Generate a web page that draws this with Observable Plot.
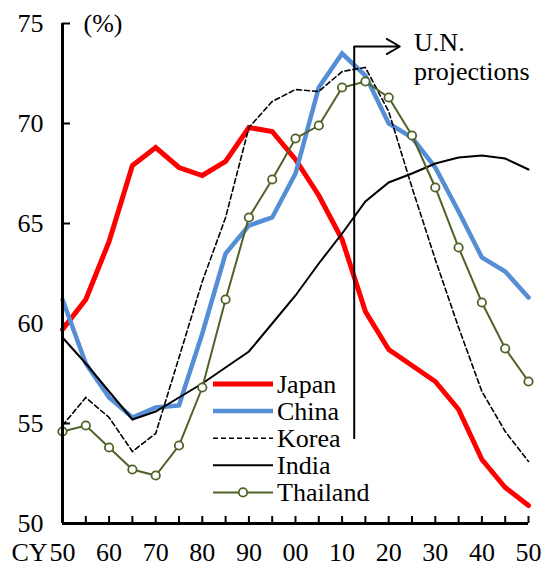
<!DOCTYPE html>
<html>
<head>
<meta charset="utf-8">
<script src="https://cdn.jsdelivr.net/npm/d3@7"></script>
<script src="https://cdn.jsdelivr.net/npm/@observablehq/plot@0.6"></script>
<style>
  html, body { margin: 0; padding: 0; background: #fff; }
  #wrap { position: relative; width: 544px; height: 566px; }
  #legend { position: absolute; left: 0; top: 0; pointer-events: none; }
</style>
</head>
<body>
<div id="wrap"></div>
<script>
// ---- data ----
const years = [1950,1955,1960,1965,1970,1975,1980,1985,1990,1995,2000,2005,2010,2015,2020,2025,2030,2035,2040,2045,2050];
const japan    = [59.7,61.2,64.1,67.9,68.8,67.8,67.4,68.1,69.8,69.6,68.2,66.4,64.2,60.6,58.7,57.9,57.1,55.7,53.2,51.8,50.9];
const china    = [61.2,58.0,56.3,55.3,55.8,55.9,59.5,63.5,64.9,65.3,67.5,71.8,73.5,72.4,70.0,69.3,67.8,65.6,63.3,62.6,61.3];
const korea    = [54.9,56.3,55.3,53.6,54.5,58.3,62.1,65.3,69.8,71.1,71.7,71.6,72.6,72.8,70.6,66.8,63.2,59.8,56.6,54.6,53.1];
const india    = [59.3,58.0,56.6,55.2,55.6,56.3,57.0,57.8,58.6,60.0,61.4,63.0,64.5,66.1,67.05,67.5,68.0,68.3,68.4,68.25,67.7];
const thailand = [54.6,54.9,53.8,52.7,52.4,53.9,56.8,61.2,65.3,67.2,69.25,69.9,71.8,72.1,71.3,69.4,66.8,63.8,61.05,58.75,57.1];

const seriesNames = ["Japan","China","Korea","India","Thailand"];
const yTicks = [50,55,60,65,70,75];
const xTicks = years;
const xLabelYears = [1950,1960,1970,1980,1990,2000,2010,2020,2030,2040,2050];
const unStartYear = 2012.6;
const unArrowEnd = 2022.4;
const unLineRange = [54.2, 73.85];
const unLabel = ["U.N.", "projections"];
const unLabelPos = [{year: 2025.45, value: 74.05}, {year: 2025.45, value: 72.6}];

// ---- styles ----
const styles = {
  Japan:    {stroke: "#FF0000", strokeWidth: 5},
  China:    {stroke: "#558ED5", strokeWidth: 4.5},
  Korea:    {stroke: "#000000", strokeWidth: 1.6, strokeDasharray: "5,3"},
  India:    {stroke: "#000000", strokeWidth: 2},
  Thailand: {stroke: "#4F6228", strokeWidth: 2}
};
const valuesByName = {Japan: japan, China: china, Korea: korea, India: india, Thailand: thailand};
const toRows = (arr) => years.map((yr, i) => ({year: yr, value: arr[i]}));

const FONT = "Liberation Serif";
const txt = {fontFamily: FONT, fontSize: 26, fill: "#000"};

const lineMarks = seriesNames.map(n =>
  Plot.line(toRows(valuesByName[n]), {x: "year", y: "value", ...styles[n], strokeLinejoin: "miter", strokeMiterlimit: 4})
);

const chart = Plot.plot({
  width: 544,
  height: 566,
  marginLeft: 62,
  marginRight: 16,
  marginTop: 23,
  marginBottom: 43,
  style: {fontFamily: FONT, fontSize: "26px", color: "#000", background: "#fff", overflow: "visible"},
  x: {type: "linear", domain: [1950, 2050]},
  y: {type: "linear", domain: [50, 75]},
  marks: [
    // y axis: inward ticks + labels
    Plot.axisY({ticks: yTicks, tickSize: 8, dx: 8, tickFormat: () => "", strokeWidth: 2, label: null}),
    Plot.axisY({ticks: yTicks, tickSize: 0, tickPadding: 19, label: null, ...txt}),
    // x axis: inward ticks + labels
    Plot.axisX({ticks: xTicks, tickSize: 7, dy: -7, tickFormat: () => "", strokeWidth: 2, label: null}),
    Plot.axisX({ticks: xLabelYears, tickSize: 0, tickPadding: 19, label: null, ...txt,
      tickFormat: d => String(d % 100).padStart(2, "0")}),
    Plot.text(["CY"], {frameAnchor: "bottom-left", dx: -15, dy: 19, textAnchor: "end", lineAnchor: "top", ...txt}),
    Plot.text(["(%)"], {frameAnchor: "top-left", dx: 21, textAnchor: "start", lineAnchor: "middle", ...txt}),
    ...lineMarks,
    Plot.dot(toRows(thailand), {x: "year", y: "value", r: 4.2, fill: "#fff", stroke: "#4F6228", strokeWidth: 1.8}),
    // U.N. projections annotation
    Plot.ruleX([unStartYear], {y1: unLineRange[0], y2: unLineRange[1], stroke: "#000", strokeWidth: 2}),
    Plot.arrow([0], {x1: unStartYear, y1: unLineRange[1], x2: unArrowEnd, y2: unLineRange[1], bend: 0,
      headLength: 14, headAngle: 60, stroke: "#000", strokeWidth: 1.8}),
    Plot.text(unLabel, {x: (d, i) => unLabelPos[i].year, y: (d, i) => unLabelPos[i].value,
      textAnchor: "start", lineAnchor: "middle", ...txt}),
    // axis lines
    Plot.ruleX([1950], {stroke: "#000", strokeWidth: 3}),
    Plot.ruleY([50], {stroke: "#000", strokeWidth: 3})
  ]
});

// force serif on every text element (inline style wins over any stylesheet)
d3.select(chart).selectAll("text, tspan, g")
  .style("font-family", "'Liberation Serif', 'Times New Roman', serif")
  .style("font-variant", "normal");

const wrap = document.getElementById("wrap");
wrap.appendChild(chart);

// ---- legend (inside plot area, overlay) ----
const legendX0 = 213, legendX1 = 273, legendTextX = 277, legendY0 = 384, legendStep = 27.1;
const leg = d3.select(wrap).append("svg")
  .attr("id", "legend").attr("width", 544).attr("height", 566);
seriesNames.forEach((n, i) => {
  const y = legendY0 + i * legendStep;
  const s = styles[n];
  leg.append("line")
    .attr("x1", legendX0).attr("x2", legendX1).attr("y1", y).attr("y2", y)
    .attr("stroke", s.stroke).attr("stroke-width", s.strokeWidth)
    .attr("stroke-dasharray", s.strokeDasharray || null);
  if (n === "Thailand") {
    leg.append("circle").attr("cx", (legendX0 + legendX1) / 2).attr("cy", y).attr("r", 4.2)
      .attr("fill", "#fff").attr("stroke", s.stroke).attr("stroke-width", 1.8);
  }
  leg.append("text").attr("x", legendTextX).attr("y", y + 8.5)
    .style("font-family", "'Liberation Serif', 'Times New Roman', serif").attr("font-size", 26).attr("fill", "#000")
    .text(n);
});
</script>
</body>
</html>
